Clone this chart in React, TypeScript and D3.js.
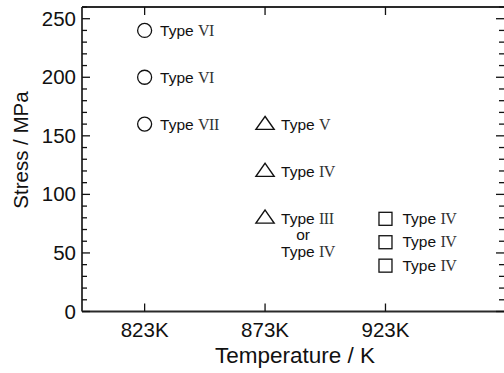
import * as d3 from 'd3';
import React, { useEffect, useRef } from 'react';

const temperatures = [823, 873, 923];
const tempLabels = ['823K', '873K', '923K'];

const circleStress = [240, 200, 160];
const circleTypes = ['VI', 'VI', 'VII'];

const triangleStress = [160, 120, 80];
const triangleTypes = ['V', 'IV', 'III'];

const squareStress = [80, 60, 40];
const squareTypes = ['IV', 'IV', 'IV'];

const stressTicks = [0, 50, 100, 150, 200, 250];

const width = 504;
const height = 373;
const margin = { left: 82, right: 504, top: 7, bottom: 311.5 };

const sans = '"Liberation Sans", Arial, sans-serif';
const serif = '"Liberation Serif", "Times New Roman", serif';

export default function App() {
  const ref = useRef<SVGSVGElement>(null);

  useEffect(() => {
    const svg = d3.select(ref.current);
    svg.selectAll('*').remove();

    const x = d3.scaleLinear().domain([797, 972]).range([margin.left, 503.5]);
    const y = d3.scaleLinear().domain([0, 260]).range([margin.bottom, margin.top]);

    const minor = d3.range(0, 261, 10);

    // frame: left, top, bottom (right edge falls off the picture)
    const frame = svg.append('g').attr('stroke', '#2a2a2a').attr('stroke-width', 1.8);
    frame.append('line')
      .attr('x1', margin.left).attr('x2', margin.left)
      .attr('y1', margin.top).attr('y2', margin.bottom);
    frame.append('line')
      .attr('x1', margin.left).attr('x2', margin.right)
      .attr('y1', margin.top).attr('y2', margin.top);
    frame.append('line')
      .attr('x1', margin.left).attr('x2', margin.right)
      .attr('y1', margin.bottom).attr('y2', margin.bottom);

    // y ticks, left and right, pointing inward
    const yt = svg.append('g').attr('stroke', '#111').attr('stroke-width', 1.3);
    minor.forEach(v => {
      const len = v % 50 === 0 ? 8 : 5;
      yt.append('line')
        .attr('x1', margin.left)
        .attr('x2', margin.left + len)
        .attr('y1', y(v))
        .attr('y2', y(v));
      yt.append('line')
        .attr('x1', 504)
        .attr('x2', 504 - len)
        .attr('y1', y(v))
        .attr('y2', y(v));
    });

    // x ticks, bottom and top
    temperatures.forEach(t => {
      yt.append('line')
        .attr('x1', x(t))
        .attr('x2', x(t))
        .attr('y1', margin.bottom)
        .attr('y2', margin.bottom - 8);
      yt.append('line')
        .attr('x1', x(t))
        .attr('x2', x(t))
        .attr('y1', margin.top)
        .attr('y2', margin.top + 8);
    });

    svg
      .append('g')
      .selectAll('text')
      .data(stressTicks)
      .enter()
      .append('text')
      .attr('x', 76)
      .attr('y', d => y(d) + 7)
      .attr('text-anchor', 'end')
      .attr('font-family', sans)
      .attr('font-size', 20.5)
      .attr('fill', '#111')
      .text(d => d);

    svg
      .append('g')
      .selectAll('text')
      .data(temperatures)
      .enter()
      .append('text')
      .attr('x', d => x(d))
      .attr('y', 337)
      .attr('text-anchor', 'middle')
      .attr('font-family', sans)
      .attr('font-size', 20.5)
      .attr('fill', '#111')
      .text((d, i) => tempLabels[i]);

    svg
      .append('text')
      .attr('x', 295)
      .attr('y', 363)
      .attr('text-anchor', 'middle')
      .attr('font-family', sans)
      .attr('font-size', 22.5)
      .attr('fill', '#111')
      .text('Temperature / K');

    svg
      .append('text')
      .attr('transform', 'translate(28,150) rotate(-90)')
      .attr('text-anchor', 'middle')
      .attr('font-family', sans)
      .attr('font-size', 20.5)
      .attr('fill', '#111')
      .text('Stress / MPa');

    const label = (px: number, py: number, roman: string) => {
      const t = svg
        .append('text')
        .attr('x', px)
        .attr('y', py)
        .attr('font-family', sans)
        .attr('font-size', 15.5)
        .attr('fill', '#111');
      t.append('tspan').text('Type ');
      t.append('tspan')
        .attr('font-family', serif)
        .attr('font-size', 16)
        .attr('letter-spacing', -0.5)
        .attr('fill', '#333')
        .text(roman);
    };

    const marks = svg
      .append('g')
      .attr('fill', 'none')
      .attr('stroke', '#111')
      .attr('stroke-width', 1.3);

    circleStress.forEach((s, i) => {
      marks.append('circle').attr('cx', x(823)).attr('cy', y(s)).attr('r', 7);
      label(x(823) + 15.5, y(s) + 6, circleTypes[i]);
    });

    const tri = d3.symbol().type(d3.symbolTriangle).size(110);
    triangleStress.forEach((s, i) => {
      marks
        .append('path')
        .attr('d', tri() as string)
        .attr('transform', `translate(${x(873)},${y(s) + 1}) scale(1.15,0.95)`);
      label(x(873) + 16, y(s) + 6, triangleTypes[i]);
    });
    svg
      .append('text')
      .attr('x', x(873) + 38)
      .attr('y', y(80) + 22)
      .attr('text-anchor', 'middle')
      .attr('font-family', sans)
      .attr('font-size', 15.5)
      .attr('fill', '#111')
      .text('or');
    label(x(873) + 16, y(80) + 39, 'IV');

    squareStress.forEach((s, i) => {
      marks
        .append('rect')
        .attr('x', x(923) - 6.5)
        .attr('y', y(s) - 5.5)
        .attr('width', 13)
        .attr('height', 13);
      label(x(923) + 17, y(s) + 6, squareTypes[i]);
    });
  }, []);

  return (
    <svg
      ref={ref}
      width={width}
      height={height}
      style={{ position: 'absolute', left: 0, top: 0, background: '#fff' }}
    />
  );
}
